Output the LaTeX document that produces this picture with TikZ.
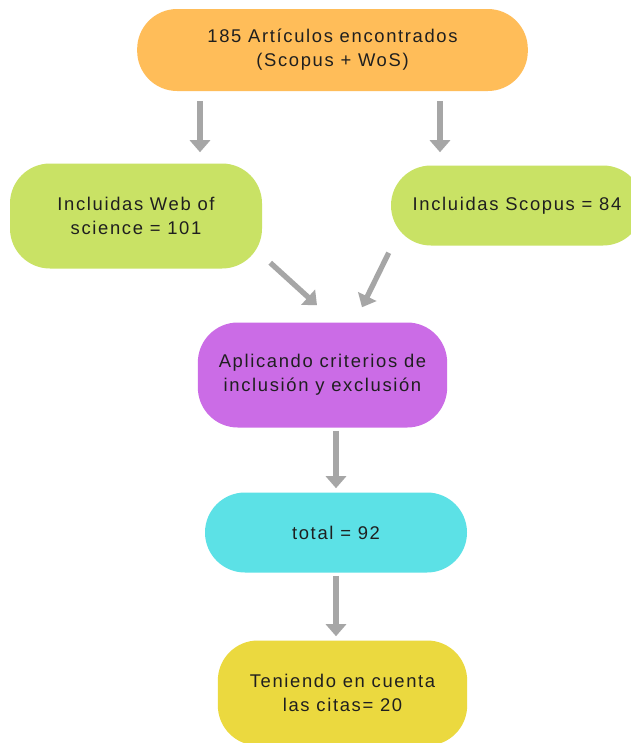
\documentclass[tikz,border=0pt]{standalone}
\usepackage{fontspec}
\setmainfont{Liberation Sans}[LetterSpace=9]
\usetikzlibrary{arrows.meta,positioning,calc}
\definecolor{boxorange}{HTML}{FFBD59}
\definecolor{boxgreen}{HTML}{C9E265}
\definecolor{boxpurple}{HTML}{CB6CE6}
\definecolor{boxcyan}{HTML}{5CE1E6}
\definecolor{boxyellow}{HTML}{EBD93F}
\definecolor{arrowgray}{HTML}{A6A6A6}
\tikzset{
  stage/.style={rectangle,rounded corners=30pt,inner sep=0pt,align=center,
    text=black!88,font=\fontsize{13.8}{18}\selectfont},
  flowarrow/.style={-{Triangle[width=15pt,length=9pt]},line width=4pt,draw=arrowgray}
}

\begin{document}
\begin{tikzpicture}[x=0.75pt,y=-0.75pt]
  \useasboundingbox[fill=white] (0,0) rectangle (631,743);
  % search
  \node[stage, fill=boxorange, minimum width=293pt, minimum height=61.5pt] (found) at (332.5,50)
    {185 Artículos encontrados\\(Scopus + WoS)};
  \node[stage, fill=boxgreen, minimum width=189pt, minimum height=78.75pt] (wos) at (136,216)
    {Incluidas Web of\\science = 101};
  \node[stage, fill=boxgreen, minimum width=189pt, minimum height=60pt] (scopus) at (517,205.5)
    {Incluidas Scopus = 84};
  % filtering
  \node[stage, fill=boxpurple, minimum width=187pt, minimum height=78.75pt] (criteria) at (322.5,375)
    {Aplicando criterios de\\inclusión y exclusión};
  \node[stage, fill=boxcyan, minimum width=196.5pt, minimum height=60pt] (total) at (336,532.5)
    {total = 92};
  \node[stage, fill=boxyellow, minimum width=187pt, minimum height=78.75pt] (cited) at (342.5,693)
    {Teniendo en cuenta\\las citas= 20};

  \draw[flowarrow, shorten <=7.5pt, shorten >=8.25pt] (found.south -| 200,0) -- (wos.north -| 200,0);
  \draw[flowarrow, shorten <=7.5pt, shorten >=9.75pt] (found.south -| 440,0) -- (scopus.north -| 440,0);
  \draw[flowarrow] ($(wos.south east)+(8,-6)$) -- ($(criteria.north)+(-5.5,-17)$);
  \draw[flowarrow] ($(scopus.south west)+(-2,7)$) -- ($(criteria.north)+(39.5,-15)$);
  \draw[flowarrow, shorten <=2.25pt, shorten >=3pt] (criteria.south -| total.north) -- (total.north);
  \draw[flowarrow, shorten <=2.25pt, shorten >=3pt] (total.south) -- (total.south |- cited.north);
\end{tikzpicture}
\end{document}
